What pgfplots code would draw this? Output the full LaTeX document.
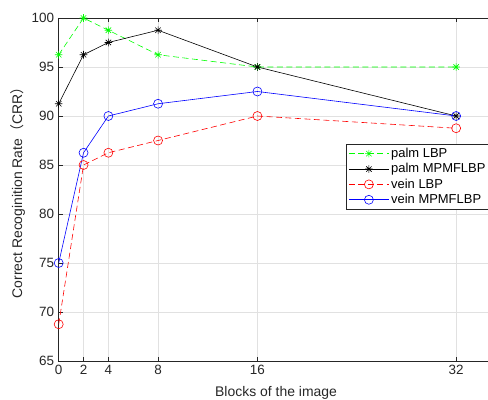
\documentclass[border=0pt]{standalone}
\usepackage{fontspec}
\setmainfont{Liberation Sans}
\newfontfamily\cjk{Noto Sans CJK SC}
\usepackage{pgfplots}
\pgfplotsset{compat=1.18}
\definecolor{tickgray}{RGB}{38,38,38}
\definecolor{gridgray}{RGB}{225,225,225}
\definecolor{mgreen}{RGB}{0,255,0}
\pgfdeclareplotmark{star8}{%
  \pgfpathmoveto{\pgfqpoint{-\pgfplotmarksize}{0pt}}\pgfpathlineto{\pgfqpoint{\pgfplotmarksize}{0pt}}%
  \pgfpathmoveto{\pgfqpoint{0pt}{-\pgfplotmarksize}}\pgfpathlineto{\pgfqpoint{0pt}{\pgfplotmarksize}}%
  \pgfpathmoveto{\pgfqpoint{-0.707\pgfplotmarksize}{-0.707\pgfplotmarksize}}\pgfpathlineto{\pgfqpoint{0.707\pgfplotmarksize}{0.707\pgfplotmarksize}}%
  \pgfpathmoveto{\pgfqpoint{-0.707\pgfplotmarksize}{0.707\pgfplotmarksize}}\pgfpathlineto{\pgfqpoint{0.707\pgfplotmarksize}{-0.707\pgfplotmarksize}}%
  \pgfusepathqstroke}
\begin{document}
\begin{tikzpicture}
\useasboundingbox (-58.7bp,-39bp) rectangle (429.3bp,361bp);
\begin{axis}[
  at={(0,0)}, anchor=south west,
  scale only axis, width=434.7bp, height=343bp,
  xmin=0, xmax=35, ymin=65, ymax=100,
  xtick={0,2,4,8,16,32}, ytick={65,70,...,100},
  grid=major, major grid style={gridgray, line width=0.6pt},
  tick align=inside, major tick length=4bp,
  tick style={tickgray, line width=0.5pt},
  axis line style={tickgray, line width=0.6pt},
  ytick pos=left,
  /pgf/number format/assume math mode=true,
  ticklabel style={font=\fontsize{13.5}{15}\selectfont, text=tickgray},
  xticklabel style={yshift=-1bp},
  yticklabel style={xshift=-1bp},
  xlabel={Blocks of the image},
  ylabel={Correct Recoginition Rate{\cjk （}CRR{\cjk ）}},
  label style={font=\fontsize{14}{16}\selectfont, text=tickgray},
  xlabel style={yshift=-5bp},
  ylabel style={yshift=0bp},
  legend style={at={(431bp,217bp)}, anchor=north east, draw=tickgray, line width=0.5pt,
    font=\fontsize{13}{15}\selectfont, text=black, row sep=0.5bp, inner sep=2pt,
    legend cell align=left},
  legend image code/.code={\draw[mark repeat=2,mark phase=2] plot coordinates {(0bp,0bp) (20bp,0bp) (40bp,0bp)};},
  legend image post style={line width=0.6pt},
]
\addplot[mgreen, dash pattern=on 6bp off 3.5bp, mark=star8, mark size=3.8bp, mark options={solid}, line width=0.6pt]
  coordinates {(0,96.25) (2,100) (4,98.75) (8,96.25) (16,95) (32,95)};
\addlegendentry{palm LBP}
\addplot[black, mark=star8, mark size=3.8bp, line width=0.6pt]
  coordinates {(0,91.25) (2,96.25) (4,97.5) (8,98.75) (16,95) (32,90)};
\addlegendentry{palm MPMFLBP}
\addplot[red, dash pattern=on 6bp off 3.5bp, mark=o, mark size=4.5bp, mark options={solid}, line width=0.6pt]
  coordinates {(0,68.75) (2,85) (4,86.25) (8,87.5) (16,90) (32,88.75)};
\addlegendentry{vein LBP}
\addplot[blue, mark=o, mark size=4.5bp, line width=0.6pt]
  coordinates {(0,75) (2,86.25) (4,90) (8,91.25) (16,92.5) (32,90)};
\addlegendentry{vein MPMFLBP}
\end{axis}
\end{tikzpicture}
\end{document}
